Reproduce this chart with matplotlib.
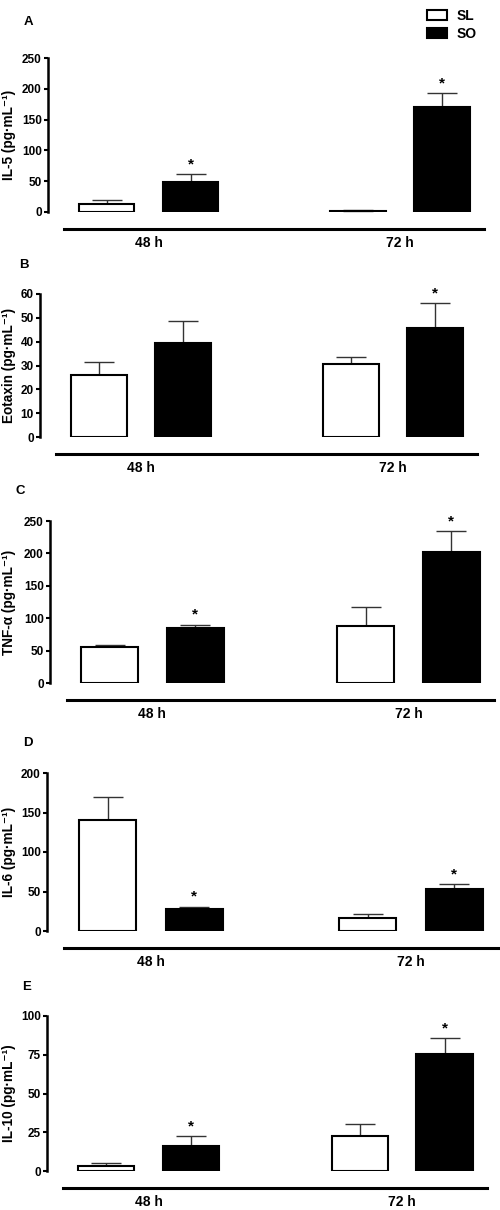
import numpy as np
import matplotlib
matplotlib.use("Agg")
import matplotlib.pyplot as plt

plt.rcParams['font.family'] = ['Liberation Sans', 'DejaVu Sans']
plt.rcParams['font.weight'] = 'bold'

groups = ['48 h', '72 h']
series = ['SL', 'SO']

# panel data: mean and upper SEM for SL (white) and SO (black)
il5_sl = [12.5, 1.0]
il5_sl_err = [6.5, 1.5]
il5_so = [49, 170]
il5_so_err = [13, 23]

eot_sl = [26.0, 30.8]
eot_sl_err = [5.5, 2.7]
eot_so = [39.5, 45.7]
eot_so_err = [9.3, 10.5]

tnf_sl = [55, 88]
tnf_sl_err = [4, 30]
tnf_so = [85, 202]
tnf_so_err = [5, 32]

il6_sl = [141, 17]
il6_sl_err = [28, 5]
il6_so = [28, 53.5]
il6_so_err = [3, 5.5]

il10_sl = [3.2, 22.7]
il10_sl_err = [2.0, 7.8]
il10_so = [15.9, 75.3]
il10_so_err = [6.6, 10.5]

# significance stars on SO bars
il5_star = [True, True]
eot_star = [False, True]
tnf_star = [True, True]
il6_star = [True, True]
il10_star = [True, True]

ylabels = ['IL-5 (pg·mL⁻¹)', 'Eotaxin (pg·mL⁻¹)', 'TNF-α (pg·mL⁻¹)',
           'IL-6 (pg·mL⁻¹)', 'IL-10 (pg·mL⁻¹)']
letters = ['A', 'B', 'C', 'D', 'E']
ymax = [250, 60, 250, 200, 100]
ystep = [50, 10, 50, 50, 25]

panels = [
    (il5_sl, il5_sl_err, il5_so, il5_so_err, il5_star),
    (eot_sl, eot_sl_err, eot_so, eot_so_err, eot_star),
    (tnf_sl, tnf_sl_err, tnf_so, tnf_so_err, tnf_star),
    (il6_sl, il6_sl_err, il6_so, il6_so_err, il6_star),
    (il10_sl, il10_sl_err, il10_so, il10_so_err, il10_star),
]

# layout in pixels: y-axis x, right edge x, top y, zero y
boxes = [(48, 488, 58, 212), (40, 481, 294, 437), (50, 498, 521, 683),
         (47, 502, 773, 931), (47, 491, 1016, 1171)]
letter_pos = [(28, 22), (24, 265), (20, 491), (28, 743), (27, 987)]

W, H = 500, 1210
fig = plt.figure(figsize=(W / 100, H / 100), dpi=100)

x = np.arange(len(groups))
off = 0.167
bw = 0.222

handles = None
for i, (sl, sle, so, soe, star) in enumerate(panels):
    l, r, t, b = boxes[i]
    ax = fig.add_axes([l / W, 1 - b / H, (r - l) / W, (b - t) / H])

    h1 = ax.bar(x - off, sl, bw, color='white', edgecolor='black', linewidth=1.5, zorder=2)
    h2 = ax.bar(x + off, so, bw, color='black', edgecolor='black', linewidth=1.5, zorder=2)
    ax.errorbar(x - off, sl, yerr=[np.zeros(2), sle], fmt='none', ecolor='#333333',
                elinewidth=1, capsize=11, capthick=1, zorder=1)
    ax.errorbar(x + off, so, yerr=[np.zeros(2), soe], fmt='none', ecolor='#333333',
                elinewidth=1, capsize=11, capthick=1, zorder=1)
    for j in range(len(groups)):
        if star[j]:
            ax.annotate('*', (x[j] + off, so[j] + soe[j]), xytext=(0, 2),
                        textcoords='offset points', ha='center', va='bottom',
                        fontsize=11, fontweight='bold')
    if handles is None:
        handles = [h1, h2]

    ax.set_xlim(-0.4, 1.35)
    ax.set_ylim(0, ymax[i])
    ax.set_yticks(np.arange(0, ymax[i] + 1, ystep[i]))
    ax.set_xticks(x)
    ax.set_xticklabels(groups, fontsize=11, fontweight='bold')
    for lab in ax.get_yticklabels():
        lab.set_fontsize(8.5)
        lab.set_fontweight('bold')

    for s in ['top', 'right']:
        ax.spines[s].set_visible(False)
    ax.spines['left'].set_linewidth(1.8)
    ax.spines['bottom'].set_linewidth(2.2)
    ax.spines['bottom'].set_position(('outward', 12))
    ax.spines['bottom'].set_bounds(-0.335, 1.335)
    ax.tick_params(axis='y', direction='out', length=3, width=1.5, pad=1.5)
    ax.tick_params(axis='x', length=0, pad=5)
    ax.patch.set_visible(False)

    fig.text(9 / W, 1 - (t + b) / 2 / H, ylabels[i], rotation=90, ha='center', va='center',
             fontsize=9.8, fontweight='bold')
    fig.text(letter_pos[i][0] / W, 1 - letter_pos[i][1] / H, letters[i], ha='center',
             va='center', fontsize=9.5, fontweight='bold')

fig.legend(handles, series, loc='upper left', bbox_to_anchor=(414 / W, 1 + 4 / H),
           frameon=False, prop={'weight': 'bold', 'size': 10},
           handlelength=1.5, handleheight=0.75, labelspacing=0.3, handletextpad=0.7)

fig.savefig('out.png', dpi=100)
